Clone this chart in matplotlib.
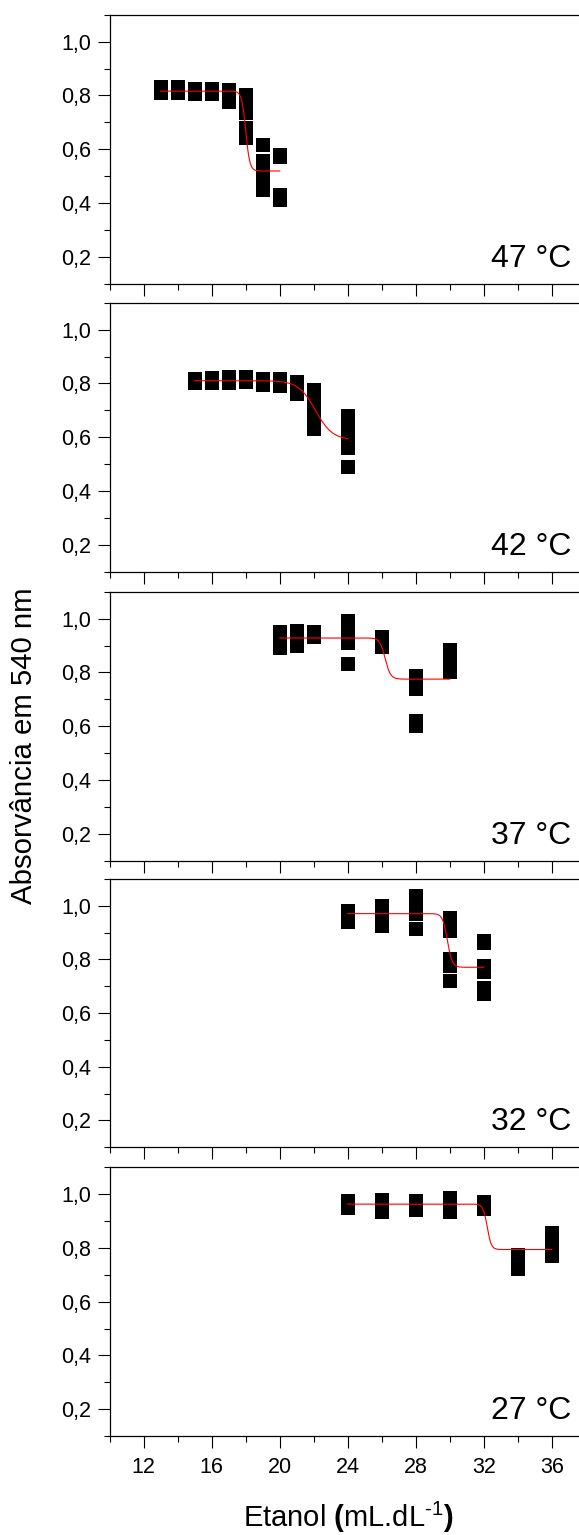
import matplotlib
matplotlib.use("Agg")
import matplotlib.pyplot as plt
import numpy as np
from matplotlib.ticker import FuncFormatter

plt.rcParams.update({
    'font.family': 'Liberation Sans',
    'mathtext.fontset': 'custom',
    'mathtext.rm': 'Liberation Sans',
    'mathtext.bf': 'Liberation Sans:bold',
    'axes.linewidth': 0.9,
})

# temperature labels, top to bottom
temps = ['47 °C', '42 °C', '37 °C', '32 °C', '27 °C']

# ethanol (mL/dL) and absorbance at 540 nm, replicates per concentration
etanol_47 = [13, 13, 14, 14, 15, 15, 16, 16, 17, 17, 17, 18, 18, 18, 18, 18,
             19, 19, 19, 19, 19, 20, 20, 20, 20]
abs_47 = [0.83, 0.81, 0.83, 0.81, 0.825, 0.805, 0.825, 0.805, 0.82, 0.80, 0.775,
          0.80, 0.77, 0.735, 0.68, 0.64, 0.615, 0.555, 0.51, 0.48, 0.45,
          0.58, 0.57, 0.43, 0.41]

etanol_42 = [15, 15, 16, 16, 17, 17, 18, 18, 19, 19, 20, 20, 21, 21, 21,
             22, 22, 22, 22, 24, 24, 24, 24, 24]
abs_42 = [0.815, 0.80, 0.82, 0.80, 0.823, 0.80, 0.823, 0.805, 0.815, 0.795,
          0.815, 0.79, 0.805, 0.78, 0.76, 0.775, 0.73, 0.68, 0.63,
          0.68, 0.65, 0.60, 0.56, 0.49]

etanol_37 = [20, 20, 20, 20, 21, 21, 21, 22, 22, 24, 24, 24, 24, 24,
             26, 26, 28, 28, 28, 28, 30, 30, 30]
abs_37 = [0.95, 0.93, 0.91, 0.89, 0.955, 0.93, 0.90, 0.95, 0.93,
          0.99, 0.965, 0.94, 0.91, 0.83, 0.93, 0.895,
          0.785, 0.74, 0.62, 0.60, 0.885, 0.845, 0.80]

etanol_32 = [24, 24, 26, 26, 26, 28, 28, 28, 28, 30, 30, 30, 30, 30,
             32, 32, 32, 32, 32, 32]
abs_32 = [0.98, 0.94, 1.0, 0.96, 0.925, 1.035, 1.0, 0.97, 0.915,
          0.955, 0.905, 0.80, 0.775, 0.72, 0.87, 0.86, 0.775, 0.755, 0.695, 0.67]

etanol_27 = [24, 24, 26, 26, 28, 28, 30, 30, 32, 32, 34, 34, 36, 36, 36]
abs_27 = [0.975, 0.95, 0.98, 0.935, 0.975, 0.94, 0.985, 0.935, 0.97, 0.945,
          0.775, 0.72, 0.855, 0.81, 0.77]

# Boltzmann fit parameters: (x_start, x_end, A1, A2, x0, dx)
fit_47 = (13, 20, 0.816, 0.519, 18.0, 0.12)
fit_42 = (15, 24, 0.81, 0.59, 22.1, 0.5)
fit_37 = (20, 30, 0.928, 0.775, 26.2, 0.16)
fit_32 = (24, 32, 0.971, 0.771, 29.86, 0.14)
fit_27 = (24, 36, 0.963, 0.794, 32.2, 0.12)

xs = [etanol_47, etanol_42, etanol_37, etanol_32, etanol_27]
ys = [abs_47, abs_42, abs_37, abs_32, abs_27]
fits = [fit_47, fit_42, fit_37, fit_32, fit_27]

W, H = 579, 1535
fig = plt.figure(figsize=(W / 100, H / 100), dpi=100)

# panel top/bottom edges in pixels
tops = [14.7, 302.7, 591.7, 879.0, 1167.3]
bottoms = [283.7, 571.7, 860.7, 1147.3, 1436.0]
left = 109.7

comma = FuncFormatter(lambda v, p: f"{v:.1f}".replace('.', ','))

for i in range(5):
    ax = fig.add_axes([left / W, 1 - bottoms[i] / H, 1 - left / W,
                       (bottoms[i] - tops[i]) / H])
    ax.plot(xs[i], ys[i], 's', color='black', ms=9.4, mew=0, zorder=2)

    x_a, x_b, a1, a2, x0, dx = fits[i]
    xf = np.linspace(x_a, x_b, 400)
    yf = a2 + (a1 - a2) / (1 + np.exp((xf - x0) / dx))
    ax.plot(xf, yf, color='red', lw=0.8, zorder=3)

    ax.set_xlim(10, 37.6)
    ax.set_ylim(0.1, 1.1)
    ax.spines['right'].set_visible(False)

    ax.set_xticks(np.arange(12, 37, 4))
    ax.set_xticks(np.arange(10, 37, 4), minor=True)
    ax.set_yticks([0.2, 0.4, 0.6, 0.8, 1.0])
    ax.set_yticks([0.1, 0.3, 0.5, 0.7, 0.9, 1.1], minor=True)
    ax.yaxis.set_major_formatter(comma)

    ax.tick_params(which='major', direction='out', length=8.5, width=0.8,
                   labelsize=15.5, top=False, right=False, pad=5)
    ax.tick_params(which='minor', direction='out', length=4.5, width=0.8,
                   top=False, right=False)
    ax.tick_params(axis='x', pad=6.5)
    if i < 4:
        ax.tick_params(axis='x', labelbottom=False)

    ax.text(0.983, 0.063, temps[i], transform=ax.transAxes, ha='right',
            va='baseline', fontsize=23)

fig.text(24 / W, 1 - 746 / H, 'Absorvância em 540 nm', rotation=90,
         ha='center', va='center', fontsize=21.2)
fig.text(348 / W, 1 - 1527 / H,
         r'Etanol $\mathbf{(}$mL.dL$^{\text{-1}}$$\mathbf{)}$',
         ha='center', va='baseline', fontsize=21)

fig.savefig('out.png', dpi=100)
